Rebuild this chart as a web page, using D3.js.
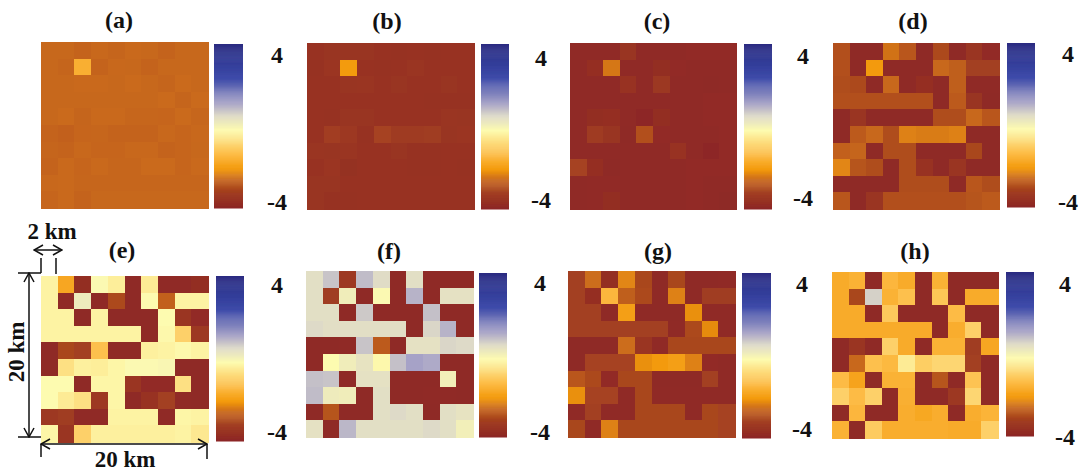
<!DOCTYPE html>
<html>
<head>
<meta charset="utf-8">
<script src="https://cdn.jsdelivr.net/npm/d3@7"></script>
<style>
body { margin: 0; background: #fff; }
text { font-family: "Liberation Serif", serif; font-weight: bold; fill: #111; font-size: 24px; }
text.dim { font-size: 23px; }
</style>
</head>
<body>
<div id="chart"></div>
<script>
var panel_names = ["(a)", "(b)", "(c)", "(d)", "(e)", "(f)", "(g)", "(h)"];
var bar_labels = ["4", "-4"];
var cells = d3.range(10);

// colour bar stops, value then colour
var stop_values = [-4, -3.2, -2.6, -2.1, -1.4, -0.2, 0.5, 1.1, 2.3, 3.1, 4];
var stop_colors = ["#8c2626", "#a33f20", "#c8681c", "#f39a0c", "#fdbb45", "#fdfbb0", "#dedac8", "#aaa6c8", "#3f4caa", "#323c98", "#2a2a80"];

var grid_a = [
  [-2.62, -2.62, -2.67, -2.6, -2.65, -2.59, -2.62, -2.67, -2.62, -2.62],
  [-2.62, -2.65, -1.65, -2.67, -2.6, -2.62, -2.66, -2.62, -2.62, -2.62],
  [-2.62, -2.62, -2.59, -2.59, -2.62, -2.58, -2.62, -2.65, -2.58, -2.62],
  [-2.62, -2.62, -2.62, -2.62, -2.62, -2.62, -2.62, -2.58, -2.65, -2.58],
  [-2.62, -2.58, -2.65, -2.59, -2.59, -2.63, -2.63, -2.64, -2.58, -2.63],
  [-2.66, -2.7, -2.64, -2.63, -2.66, -2.66, -2.66, -2.6, -2.64, -2.6],
  [-2.65, -2.66, -2.6, -2.64, -2.64, -2.6, -2.6, -2.66, -2.64, -2.62],
  [-2.66, -2.59, -2.64, -2.59, -2.63, -2.63, -2.58, -2.58, -2.64, -2.59],
  [-2.6, -2.59, -2.63, -2.63, -2.63, -2.63, -2.63, -2.63, -2.63, -2.63],
  [-2.64, -2.59, -2.66, -2.62, -2.62, -2.62, -2.62, -2.62, -2.62, -2.62]
];
var grid_b = [
  [-3.6, -3.56, -3.56, -3.56, -3.6, -3.63, -3.6, -3.63, -3.6, -3.6],
  [-3.63, -3.48, -2.08, -3.6, -3.63, -3.6, -3.5, -3.6, -3.6, -3.6],
  [-3.6, -3.6, -3.56, -3.52, -3.6, -3.54, -3.6, -3.6, -3.54, -3.58],
  [-3.6, -3.6, -3.6, -3.6, -3.6, -3.6, -3.6, -3.63, -3.63, -3.63],
  [-3.6, -3.63, -3.56, -3.56, -3.58, -3.6, -3.6, -3.6, -3.52, -3.56],
  [-3.6, -3.25, -3.42, -3.63, -3.15, -3.35, -3.35, -3.3, -3.56, -3.48],
  [-3.52, -3.56, -3.52, -3.6, -3.6, -3.56, -3.61, -3.61, -3.58, -3.58],
  [-3.6, -3.48, -3.67, -3.6, -3.6, -3.6, -3.63, -3.63, -3.58, -3.63],
  [-3.56, -3.56, -3.6, -3.6, -3.6, -3.6, -3.6, -3.6, -3.6, -3.6],
  [-3.56, -3.63, -3.63, -3.58, -3.58, -3.58, -3.58, -3.58, -3.58, -3.58]
];
var grid_c = [
  [-3.85, -3.85, -3.85, -3.55, -3.85, -3.85, -3.85, -3.8, -3.8, -3.8],
  [-3.85, -3.7, -2.45, -3.85, -3.85, -3.75, -3.8, -3.85, -3.85, -3.85],
  [-3.85, -3.85, -3.85, -3.6, -3.85, -3.45, -3.85, -3.85, -3.9, -3.85],
  [-3.85, -3.85, -3.85, -3.85, -3.85, -3.85, -3.85, -3.85, -3.8, -3.8],
  [-3.85, -3.75, -3.7, -3.85, -3.95, -3.75, -3.85, -3.85, -3.8, -3.8],
  [-3.85, -3.35, -3.55, -3.9, -2.95, -3.8, -3.85, -3.85, -3.85, -3.8],
  [-3.85, -3.85, -3.85, -3.85, -3.85, -3.85, -3.6, -3.85, -3.95, -3.8],
  [-3.15, -3.7, -3.88, -3.85, -3.85, -3.85, -3.85, -3.8, -3.8, -3.8],
  [-3.85, -3.82, -3.82, -3.85, -3.85, -3.85, -3.85, -3.8, -3.85, -3.85],
  [-3.85, -3.82, -3.75, -3.85, -3.85, -3.85, -3.85, -3.8, -3.85, -3.92]
];
var grid_d = [
  [-2.95, -3.9, -3.9, -2.5, -2.85, -3.9, -3.05, -3.9, -3.5, -3.8],
  [-2.95, -3.9, -2.1, -3.9, -3.9, -3.9, -2.6, -2.75, -3.2, -3.2],
  [-3.0, -3.05, -3.9, -2.6, -3.9, -3.7, -3.9, -2.75, -3.85, -3.85],
  [-2.95, -2.95, -2.95, -2.95, -2.95, -2.95, -3.9, -2.8, -3.55, -3.9],
  [-3.9, -3.5, -3.9, -3.9, -3.9, -3.9, -3.0, -3.0, -2.6, -2.85],
  [-3.9, -2.8, -2.6, -3.0, -2.35, -2.4, -2.4, -2.35, -3.9, -3.9],
  [-2.7, -2.65, -3.9, -3.0, -3.0, -3.9, -3.9, -3.9, -3.1, -3.9],
  [-2.3, -2.9, -3.0, -3.9, -3.0, -3.6, -3.9, -3.5, -3.9, -3.9],
  [-3.9, -3.9, -3.9, -3.9, -3.0, -3.0, -3.0, -3.9, -2.85, -3.0],
  [-2.85, -3.9, -3.5, -2.95, -2.95, -2.95, -2.95, -2.95, -2.9, -2.8]
];
var grid_e = [
  [-0.35, -1.85, -3.75, -0.15, -0.45, -3.9, -0.5, -3.85, -3.85, -3.75],
  [-0.35, -3.85, 0.15, -3.9, -3.05, -3.9, -0.2, -2.7, -0.35, -0.35],
  [-0.35, -0.35, -3.9, -0.35, -3.9, -3.9, -3.9, -0.2, -3.5, -3.8],
  [-0.35, -0.35, -0.35, -0.35, -0.35, -0.35, -3.9, -0.25, -1.0, -3.4],
  [-3.9, -3.1, -3.2, -1.3, -3.9, -3.9, -0.4, -0.35, -0.25, -0.35],
  [-3.9, -0.7, -0.4, -0.45, -0.3, -0.15, -0.15, -0.1, -3.9, -3.9],
  [-0.2, -0.2, -3.9, -0.3, -0.3, -3.5, -3.8, -3.8, -0.7, -3.9],
  [-0.2, -0.5, -0.7, -3.4, -0.3, -3.9, -3.6, -3.2, -3.85, -3.9],
  [-3.4, -3.3, -3.85, -3.85, -0.35, -0.35, -0.35, -3.85, -0.3, -0.35],
  [-0.3, -3.5, -1.0, -0.4, -0.4, -0.4, -0.4, -0.4, -0.35, -0.55]
];
var grid_f = [
  [0.4, 0.75, -3.4, 0.85, 0.45, -3.9, 0.4, -3.9, -3.9, -3.9],
  [0.4, -3.3, 0.1, -3.9, -0.15, -3.9, 0.95, -3.9, 0.35, 0.35],
  [0.4, 0.4, -3.9, 0.7, -3.9, -3.9, -3.9, 0.8, -3.9, -3.9],
  [0.5, 0.42, 0.42, 0.42, 0.42, 0.42, -3.9, 0.55, 0.95, -3.9],
  [-3.9, -3.9, -3.85, 0.75, -2.8, -3.9, 0.35, 0.35, 0.55, 0.5],
  [-3.9, -0.2, 0.1, 0.3, -0.25, 0.8, 1.15, 1.05, -3.9, -3.9],
  [0.8, 0.75, -3.9, 0.35, 0.35, -3.9, -3.9, -3.9, 0.05, -3.9],
  [0.85, 0.15, 0.1, -3.9, 0.4, -3.9, -3.9, -3.85, -3.85, -3.9],
  [-3.9, -2.9, -3.9, -3.9, 0.4, 0.5, 0.4, -3.9, 0.4, 0.3],
  [0.35, -3.9, 0.9, 0.4, 0.4, 0.4, 0.4, 0.5, 0.4, 0.05]
];
var grid_g = [
  [-3.2, -2.55, -3.75, -2.3, -3.1, -3.9, -3.1, -3.9, -3.9, -3.85],
  [-3.2, -3.7, -1.5, -2.75, -3.05, -3.9, -2.35, -3.9, -3.3, -3.3],
  [-3.2, -3.2, -3.9, -2.0, -3.9, -3.9, -3.9, -2.2, -3.85, -3.85],
  [-3.2, -3.2, -3.2, -3.2, -3.2, -3.2, -3.85, -3.05, -2.25, -3.85],
  [-3.9, -3.9, -3.9, -2.55, -3.5, -3.85, -3.1, -3.1, -3.1, -3.1],
  [-3.9, -3.15, -3.15, -3.15, -2.2, -2.1, -2.0, -2.35, -3.8, -3.85],
  [-2.85, -3.05, -3.8, -3.1, -3.1, -3.9, -3.9, -3.9, -3.2, -3.85],
  [-2.2, -3.15, -3.15, -3.85, -3.1, -3.85, -3.85, -3.85, -3.85, -3.85],
  [-3.85, -3.2, -3.85, -3.85, -3.1, -3.1, -3.1, -3.85, -3.1, -3.15],
  [-3.1, -3.85, -2.35, -3.1, -3.1, -3.1, -3.1, -3.1, -3.1, -3.15]
];
var grid_h = [
  [-1.75, -1.6, -3.9, -1.5, -1.75, -3.9, -1.6, -3.9, -3.9, -3.9],
  [-1.75, -3.1, 0.6, -1.6, -1.3, -3.9, -1.2, -3.9, -1.75, -1.75],
  [-1.75, -1.75, -3.9, -1.15, -3.9, -3.9, -3.9, -1.4, -3.9, -3.9],
  [-1.75, -1.75, -1.75, -1.75, -1.75, -1.75, -3.9, -1.7, -1.0, -3.9],
  [-3.9, -3.5, -3.9, -1.0, -1.75, -3.9, -1.6, -1.6, -3.3, -1.85],
  [-3.9, -2.6, -1.3, -1.45, -0.5, -1.05, -0.9, -0.9, -3.2, -3.9],
  [-1.4, -1.9, -3.9, -1.6, -1.6, -3.9, -2.9, -3.9, -1.25, -3.9],
  [-1.0, -1.4, -1.0, -3.9, -1.65, -3.9, -3.9, -3.4, -0.9, -3.9],
  [-3.9, -1.5, -3.9, -3.9, -1.7, -1.8, -1.7, -3.9, -1.7, -1.55],
  [-1.6, -3.9, -1.1, -1.7, -1.7, -1.7, -1.7, -1.75, -1.75, -1.0]
];
var grids = [grid_a, grid_b, grid_c, grid_d, grid_e, grid_f, grid_g, grid_h];

// where each panel sits on the page: map, bar, title and bar labels
var layout = [
  {x0: 41, x1: 208, y0: 42, y1: 208, bx0: 214, bx1: 243, by0: 44, by1: 208, tx: 119, ty: 20, lx: 277, hi: 55, lo: 202},
  {x0: 307, x1: 474, y0: 43, y1: 209, bx0: 481, bx1: 509, by0: 44, by1: 209, tx: 387, ty: 21, lx: 541, hi: 58, lo: 200},
  {x0: 570, x1: 736, y0: 43, y1: 209, bx0: 744, bx1: 772, by0: 44, by1: 209, tx: 657, ty: 21, lx: 803, hi: 56, lo: 198},
  {x0: 833, x1: 999, y0: 43, y1: 209, bx0: 1007, bx1: 1035, by0: 43, by1: 207, tx: 913, ty: 21, lx: 1068, hi: 54, lo: 202},
  {x0: 41, x1: 208, y0: 276, y1: 442, bx0: 216, bx1: 244, by0: 276, by1: 441, tx: 122, ty: 250, lx: 277, hi: 285, lo: 432},
  {x0: 306, x1: 473, y0: 271, y1: 437, bx0: 479, bx1: 507, by0: 273, by1: 437, tx: 389, ty: 251, lx: 540, hi: 283, lo: 432},
  {x0: 568, x1: 735, y0: 271, y1: 437, bx0: 742, bx1: 771, by0: 273, by1: 438, tx: 658, ty: 251, lx: 802, hi: 284, lo: 429},
  {x0: 832, x1: 998, y0: 272, y1: 438, bx0: 1006, bx1: 1034, by0: 272, by1: 436, tx: 915, ty: 251, lx: 1065, hi: 284, lo: 437}
];

var color_scale = d3.scaleLinear().domain(stop_values).range(stop_colors).interpolate(d3.interpolateRgb);

var svg = d3.select("#chart").append("svg").attr("width", 1082).attr("height", 473).style("display", "block");

var defs = svg.append("defs");
defs.append("filter").attr("id", "soft")
    .append("feGaussianBlur").attr("stdDeviation", 0.45);
var marker = defs.append("marker").attr("id", "open-head")
    .attr("viewBox", "-10 -6 11 12").attr("refX", 0).attr("refY", 0)
    .attr("markerWidth", 11).attr("markerHeight", 12)
    .attr("markerUnits", "userSpaceOnUse").attr("orient", "auto-start-reverse");
marker.append("path").attr("d", "M-9,-5 L0,0 L-9,5").attr("fill", "none").attr("stroke", "#111").attr("stroke-width", 1.5);

// one heat map with its colour bar
function drawPanel(i)
{
    var p = layout[i];
    var g = svg.append("g");
    var x = d3.scaleBand().domain(cells).range([p.x0, p.x1]);
    var y = d3.scaleBand().domain(cells).range([p.y0, p.y1]);

    var map = g.append("g").attr("filter", "url(#soft)").attr("shape-rendering", "crispEdges");
    map.selectAll("g").data(grids[i]).enter().append("g")
        .each(function(row, r) {
            d3.select(this).selectAll("rect").data(row).enter().append("rect")
                .attr("x", function(d, c) { return x(c); })
                .attr("y", y(r))
                .attr("width", x.bandwidth() + 0.5)
                .attr("height", y.bandwidth() + 0.5)
                .attr("fill", function(d) { return color_scale(d); });
        });

    var bar_y = d3.scaleLinear().domain([-4, 4]).range([p.by1, p.by0]);
    var steps = d3.range(-4, 4, 0.05);
    var bar = g.append("g").attr("filter", "url(#soft)");
    bar.selectAll("rect").data(steps).enter().append("rect")
        .attr("x", p.bx0)
        .attr("y", function(d) { return bar_y(d + 0.05); })
        .attr("width", p.bx1 - p.bx0)
        .attr("height", function(d) { return bar_y(d) - bar_y(d + 0.05) + 0.5; })
        .attr("fill", function(d) { return color_scale(d); });

    g.append("text").attr("x", p.tx).attr("y", p.ty).attr("dy", "0.32em").attr("text-anchor", "middle").text(panel_names[i]);
    g.append("text").attr("x", p.lx).attr("y", p.hi).attr("dy", "0.32em").attr("text-anchor", "middle").text(bar_labels[0]);
    g.append("text").attr("x", p.lx).attr("y", p.lo).attr("dy", "0.32em").attr("text-anchor", "middle").text(bar_labels[1]);
}

function drawLine(x1, y1, x2, y2, arrows)
{
    var l = svg.append("line").attr("x1", x1).attr("y1", y1).attr("x2", x2).attr("y2", y2)
        .attr("stroke", "#111").attr("stroke-width", 1.5);
    if (arrows) {
        l.attr("marker-start", "url(#open-head)").attr("marker-end", "url(#open-head)");
    }
}

// the scale annotations round panel (e)
function drawDimensions()
{
    drawLine(34, 250, 62, 250, true);
    drawLine(41, 258, 41, 273);
    drawLine(56, 258, 56, 274);
    drawLine(18, 273, 41, 273);
    drawLine(18, 437, 41, 437);
    drawLine(29, 273, 29, 437, true);
    drawLine(41, 444, 207, 444, true);
    drawLine(41, 444, 41, 457);
    drawLine(207, 444, 207, 459);

    svg.append("text").attr("class", "dim").attr("x", 52).attr("y", 232).attr("dy", "0.32em").attr("text-anchor", "middle").text("2 km");
    svg.append("text").attr("class", "dim").attr("x", 125).attr("y", 460).attr("dy", "0.32em").attr("text-anchor", "middle").text("20 km");
    svg.append("text").attr("class", "dim").attr("transform", "translate(17,352) rotate(-90)").attr("dy", "0.32em").attr("text-anchor", "middle").text("20 km");
}

grids.forEach(function(d, i) { drawPanel(i); });
drawDimensions();
</script>
</body>
</html>
